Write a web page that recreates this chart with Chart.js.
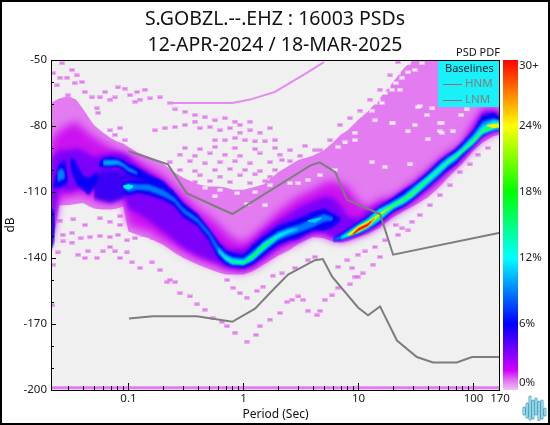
<!DOCTYPE html>
<html>
<head>
<meta charset="utf-8">
<script src="https://cdn.jsdelivr.net/npm/chart.js@4"></script>
<style>
  html, body { margin: 0; padding: 0; background: #fff; }
  #page { position: relative; width: 550px; height: 425px; overflow: hidden; font-family: "Noto Sans", sans-serif; }
  #page canvas { position: absolute; top: 0; }
  #frame { position: absolute; left: 0; top: 0; width: 546px; height: 421px; border: 2px solid #000; }
  #pdfTitle { position: absolute; left: 456px; top: 44px; font-size: 11px; color: #111; white-space: nowrap; }
  #legend { position: absolute; left: 438px; top: 61px; width: 61px; height: 46px; background: #19f0f8; font-size: 11.5px; color: #808080; }
  #legend div { position: absolute; white-space: nowrap; }
  #legend i { position: absolute; left: 5px; width: 19px; height: 1px; background: #9a6a78; }
  #logo { position: absolute; left: 522px; top: 395px; }
</style>
</head>
<body>
<div id="page">
  <canvas id="psd" width="550" height="425" style="left:0"></canvas>
  <canvas id="bar" width="50" height="425" style="left:500px"></canvas>
  <div id="pdfTitle">PSD PDF</div>
  <div id="legend">
    <div style="left:7px;top:-1px;color:#123;font-size:11px">Baselines</div>
    <i style="top:23px"></i><div style="left:27px;top:14px">HNM</div>
    <i style="top:39px"></i><div style="left:27px;top:30px">LNM</div>
  </div>
  <svg id="logo" width="26" height="26" fill="none" stroke-linecap="round">
    <path d="M2 13v6M5 9v13M8 2v22M11 6v17M14 4v15M17 7v18M20 6v17M23 14v6" stroke="#4aa6c4" stroke-width="3"/>
    <path d="M2 13v6M5 9v13M8 2v22M11 6v17M14 4v15M17 7v18M20 6v17M23 14v6" stroke="#c8eef6" stroke-width="1.2"/>
  </svg>
  <div id="frame"></div>
</div>
<script>
const titleLines = ['S.GOBZL.--.EHZ : 16003 PSDs', '12-APR-2024 / 18-MAR-2025'];

const xTicks = [0.1, 1, 10, 100, 170];
const xMinor = [0.03, 0.04, 0.05, 0.06, 0.07, 0.08, 0.09, 0.2, 0.3, 0.4, 0.5, 0.6, 0.7, 0.8, 0.9, 2, 3, 4, 5, 6, 7, 8, 9, 20, 30, 40, 50, 60, 70, 80, 90];
const yTicks = [-200, -170, -140, -110, -80, -50];
const yMinor = [-190, -180, -160, -150, -130, -120, -100, -90, -70, -60];

// baselines
const hnmPeriod = [0.1, 0.22, 0.32, 0.8, 3.8, 4.6, 6.3, 7.9, 15.4, 20, 170];
const hnmDb = [-91.5, -97.4, -110.5, -120, -98, -96.5, -101, -113.5, -120, -138.5, -128.5];
const lnmPeriod = [0.101, 0.163, 0.394, 0.8, 1.26, 1.88, 2.44, 4.18, 4.9, 5.9, 9.9, 12.1, 15.4, 21.6, 32.2, 44.5, 71.6, 97, 170];
const lnmDb = [-167.5, -166.5, -166.5, -169, -163, -153.5, -147.5, -141, -140.5, -148.5, -162.5, -166, -162, -177.5, -185, -187.5, -187.5, -185, -185];

// density contours across all periods
const periods = [0.021, 0.025, 0.03, 0.035, 0.04, 0.05, 0.06, 0.07, 0.08, 0.09,
  0.1, 0.12, 0.15, 0.2, 0.25, 0.3, 0.4, 0.5, 0.6, 0.7, 0.8,
  1, 1.2, 1.5, 2, 2.5, 3, 4, 5, 6, 7, 8,
  10, 12, 15, 20, 25, 30, 40, 50, 60, 70, 80,
  100, 120, 150, 170];
const pinkTop = [-69.5, -67.5, -66.5, -68, -72, -79.5, -83, -85.5, -87, -88,
  -89.5, -92, -94, -97, -101, -103.5, -106.5, -107.5, -107.5, -108, -109,
  -109, -108, -106.5, -101, -98, -95.5, -93.5, -91, -87.5, -84, -82,
  -77, -73.5, -68, -60, -53.5, -50, -50, -50, -50, -50, -50,
  -50, -50, -50, -50];
const pinkBottom = [-140, -116, -116, -115.5, -115, -117.5, -118, -118, -117.5, -116.5,
  -128, -129.5, -131, -134, -137.5, -140, -143, -145, -146.5, -147.5, -147.5,
  -147.5, -146, -143, -139, -136.5, -133.5, -130.5, -131, -132.5, -133, -132.5,
  -130.5, -129, -126.5, -121.5, -118.5, -116.5, -112.5, -108, -103.5, -100, -97,
  -91, -87.5, -84.5, -84];
const magentaTop = [-86.5, -82, -79.5, -78, -81, -85, -87.5, -89.5, -91, -92,
  -93, -95.5, -98.5, -102.5, -107.5, -111.5, -117.5, -121, -124.5, -128, -131,
  -133, -130, -125.5, -119, -115, -112, -109, -106, -105, -106, -107.5,
  -114.5, -117, -113.5, -112, -108.5, -105.5, -100, -95.5, -92, -90, -87.5,
  -78, -72, -72, -72.5];
const magentaBottom = [-136.5, -113, -112.5, -111.5, -111.5, -113.5, -115, -115, -114.5, -113.5,
  -125, -126.5, -128, -132, -135, -137.5, -141, -142.5, -144, -145, -146,
  -146.5, -145, -142, -137, -134.5, -133, -129, -130, -132, -132.5, -132,
  -130, -128.5, -125.5, -120.5, -117.5, -115, -110, -106, -101.5, -98.5, -95.5,
  -90, -86, -83.5, -83];
const violetTop = [-94.5, -91, -91, -90, -91, -94, -93, -92, -92, -92.5,
  -94, -98, -101, -105.5, -111, -115.5, -123, -127.5, -132, -135, -136,
  -136, -133, -128, -123, -120, -117, -114, -112, -112.5, -116, -121,
  -122, -118.5, -115.5, -113, -109, -106.5, -101, -96, -93, -91, -88,
  -81, -73.5, -73, -74];
const violetBottom = [-134, -109, -110, -109, -108, -109, -111.5, -112.5, -111.5, -110.5,
  -118, -119.5, -123, -128, -132, -135.5, -139, -141, -142.5, -144.5, -145,
  -145.5, -144, -140.5, -135.5, -133, -132, -129, -128.5, -130.5, -132, -131,
  -129.5, -128, -125, -119.5, -117, -114, -109, -104.5, -100.5, -98, -95,
  -89.5, -85, -82.5, -82.5];

// trough ridge, 0.09 to 7 s
const troughPeriod = [0.09, 0.1, 0.12, 0.15, 0.2, 0.25, 0.3, 0.4, 0.5, 0.6, 0.7, 0.8, 1, 1.2, 1.5, 2, 2.5, 3, 4, 5, 6, 7];
const blueTop = [-106, -105, -104.5, -104.5, -107.5, -110, -115, -120, -126.5, -132.5, -136.5, -137.5, -138.5, -134, -130, -125.5, -123.5, -122, -119, -117.5, -119.5, -122];
const blueBottom = [-110.5, -111.5, -110.5, -111.5, -113.5, -116.5, -121.5, -125.5, -132, -140, -143, -144, -144.5, -143, -139, -134, -132, -131, -127.5, -127.5, -126, -123];
const lightPeriod = [0.09, 0.1, 0.12, 0.15, 0.2, 0.25, 0.3, 0.4, 0.5, 0.6, 0.7, 0.8, 1, 1.2, 1.5, 2, 2.5, 3, 4, 5, 6];
const lightTop = [-107, -106, -106.5, -106.5, -109, -112.5, -117.5, -122, -128, -134.5, -138, -139.5, -140, -137, -132.5, -128, -126, -125, -122, -120, -121.5];
const lightBottom = [-108.5, -110, -109, -109.5, -112, -114.5, -119.5, -124, -130, -138, -141.5, -143, -143.5, -141.5, -137, -132, -130, -128.5, -126, -123.5, -123];
const cyanTroughPeriod = [0.6, 0.7, 0.8, 1, 1.2, 1.5, 2, 2.5, 3];
const cyanTroughTop = [-135.5, -139, -140.5, -141, -138, -133, -129, -127, -126.5];
const cyanTroughBottom = [-137, -141, -143, -143, -141, -136.5, -131, -128.5, -127];
const cyanPatchPeriod = [3.6, 4.2, 4.8];
const cyanPatchTop = [-123, -122, -121.5];
const cyanPatchBottom = [-123.5, -124, -122];
const greenTroughPeriod = [0.7, 0.8, 1, 1.2, 1.5, 2];
const greenTroughTop = [-140, -141.5, -142, -138.5, -134, -130];
const greenTroughBottom = [-140.5, -142, -143, -140, -135.5, -130.5];

// upper and middle ridges left of 0.25 s
const upperPeriod = [0.055, 0.06, 0.07, 0.08, 0.09, 0.1, 0.12, 0.15, 0.2, 0.25];
const upperTop = [-97, -94.5, -94, -94.5, -95.5, -97, -99, -102, -105, -110];
const upperBottom = [-98.5, -99, -99, -98.5, -100, -102, -103.5, -106, -109, -111];
const upperLightPeriod = [0.06, 0.07, 0.08, 0.09, 0.1, 0.12];
const upperLightTop = [-95.5, -95.5, -95.5, -97, -99, -101];
const upperLightBottom = [-98, -98, -97.5, -98.5, -100.5, -102];
const middlePeriod = [0.031, 0.033, 0.036, 0.04, 0.045, 0.05, 0.055];
const middleTop = [-94.5, -94.5, -98, -102.5, -103.5, -102, -101.5];
const middleBottom = [-98, -102.5, -107, -109, -111.5, -108, -104.5];
const patchPeriod = [0.05, 0.07, 0.09, 0.11, 0.13];
const patchTop = [-102, -100, -101, -101, -103];
const patchBottom = [-113, -115, -113, -108, -105];
const blobPeriod = [0.022, 0.025, 0.028, 0.03];
const blobTop = [-107.5, -97.5, -95.5, -104.5];
const blobBottom = [-108, -108, -107, -105];
const blobLightPeriod = [0.024, 0.026, 0.028];
const blobLightTop = [-101, -99, -101];
const blobLightBottom = [-105.5, -104.5, -104];
const edgePeriod = [0.021, 0.0225, 0.023];
const edgeTop = [-118, -118, -125];
const edgeBottom = [-137, -133, -125];
const blobCyanPeriod = [0.09, 0.1, 0.11];
const blobCyanTop = [-107, -106.5, -107];
const blobCyanBottom = [-108, -109, -108];

// steep core, 6 to 170 s
const corePeriod = [6, 7, 8, 10, 12, 15, 20, 25, 30, 40, 50, 60, 70, 80, 100, 120, 150, 170];
const coreBlueTop = [-131, -129, -127, -123.5, -121, -117, -112.5, -109, -106.5, -101, -96, -93, -90.5, -87.5, -82, -75, -74, -76];
const coreBlueBottom = [-132.5, -132, -131, -129.5, -127.5, -124.5, -119, -116.5, -113.5, -108, -103.5, -100, -97.5, -94, -89, -84.5, -82, -82];
const coreLightTop = [-131.5, -130, -128, -124.5, -122, -118, -114, -111, -107.5, -102.5, -97.5, -94, -92, -89, -83.5, -78, -76.5, -77.5];
const coreLightBottom = [-132, -131.5, -130.5, -129, -127, -123.5, -118, -115.5, -112.5, -107, -102.5, -98.5, -96, -93, -88.5, -84, -82, -81.5];
const coreCyanPeriod = [7, 8, 10, 12, 15, 20, 25, 30, 40, 50, 60, 70, 80, 100, 120, 150, 170];
const coreCyanTop = [-130.5, -128.5, -125, -122.5, -118, -115, -112, -108.5, -103, -98.5, -95, -92.5, -90, -85, -80, -77.5, -78];
const coreCyanBottom = [-131.5, -130.5, -128.5, -126.5, -123, -117.5, -115, -112, -106, -101.5, -97.5, -95, -92, -88, -83.5, -81.5, -81];
const coreGreenPeriod = [8, 10, 12, 15, 20, 25, 30, 40, 50, 60, 70, 80, 100, 120, 150, 170];
const coreGreenTop = [-129, -125.5, -123, -119.5, -115.5, -112.5, -109.5, -104, -100, -96, -93.5, -91, -86, -81.5, -78.5, -78.5];
const coreGreenBottom = [-130, -128.5, -126, -122, -117, -114, -111.5, -105, -100.5, -97, -94.5, -92, -87.5, -83, -81, -80.5];
const yellowPeriod = [8, 10, 12, 15, 20];
const yellowTop = [-129.5, -125.5, -123.5, -120, -116];
const yellowBottom = [-130, -128, -126, -121, -116];
const yellowEndPeriod = [130, 150, 170];
const yellowEndTop = [-79.5, -79, -79];
const yellowEndBottom = [-80, -81, -80.5];
const orangePeriod = [8.5, 10, 12, 14];
const orangeTop = [-129.5, -126, -124, -121.5];
const orangeBottom = [-130, -128, -126, -122];
const redPeriod = [9, 10, 12, 13];
const redTop = [-129, -126.5, -124.5, -123];
const redBottom = [-129.5, -127.5, -125.5, -123.5];

// isolated bins
const dotPeriod = [0.0264, 0.0221, 0.0323, 0.0254, 0.0292, 0.0356, 0.0394, 0.0298, 0.034, 0.0239, 0.0418, 0.0482, 0.0625, 0.0565, 0.069, 0.0811, 0.093, 0.103, 0.0763, 0.1186, 0.139, 0.0532, 0.0544, 0.114, 0.126, 0.154, 0.188, 0.229, 0.254, 0.31, 0.378, 0.462, 0.565, 0.69, 0.843, 0.932, 1.14,
  0.17, 0.207, 0.254, 0.31, 0.378, 0.418, 0.511, 0.625, 0.763, 0.932, 1.14, 1.39, 1.7, 0.565, 0.69, 0.843, 1.03, 1.26, 1.54, 1.88, 0.0763, 0.093, 0.069, 0.0843,
  0.31, 0.418, 0.565, 0.843, 1.26, 1.88, 0.28, 0.378, 0.511, 0.69, 0.932, 1.39, 2.07, 3.1, 0.229, 0.342, 0.462, 0.625, 0.843, 1.14, 1.7, 2.54, 3.79, 0.28, 0.378, 0.565, 0.763, 1.03, 1.39, 1.88, 0.418, 0.625, 0.932, 1.26, 1.7, 0.378, 0.511, 0.763, 1.14, 1.54,
  0.0269, 0.0323, 0.0383, 0.0463, 0.0565, 0.069, 0.0811, 0.097, 0.114, 0.134, 0.163, 0.0269, 0.0323, 0.0244, 0.0444, 0.0365, 0.0418, 0.0532, 0.06, 0.069, 0.0763, 0.0843, 0.097, 0.107, 0.126, 0.16, 0.188, 0.229, 0.216, 0.254, 0.28, 0.342, 0.394, 0.462, 0.543, 0.65, 0.72, 0.843, 1.07, 1.284, 1.39, 1.7, 0.72, 0.811, 0.932, 1.07, 1.31, 1.48, 1.8, 0.0221, 0.0216,
  2.16, 2.8, 3.64, 4.18, 6.63, 8, 8.8, 9.9, 9.9, 11.4, 13.9, 17, 22.1, 23.9, 27, 13.4, 15.4, 5.9, 5.1, 3, 2.64, 3.3, 6.63, 8.43, 9.3, 10.9, 2.07, 3.64, 4.36, 4.63, 2.39,
  0.0254, 0.0331, 0.0418, 0.0565, 0.069, 0.0843, 0.0843, 41.8, 51, 62.5, 76, 93, 109, 133, 34, 29.2, 21,
  4.63, 5.65, 6.9, 8.43, 10.3, 12.6, 15.4, 18.8, 22, 2.54, 3.43, 4.18, 2.16, 3.1, 2.07];
const dotDb = [-51.5, -56, -54.5, -58, -58, -57, -60, -66, -60.5, -61.5, -64.5, -67, -64.5, -67, -68, -62.5, -63, -66, -67, -64.5, -63.5, -72, -74, -69, -68, -67.5, -67, -69.5, -72.5, -73.5, -75, -76, -77.5, -76.5, -78, -79.5, -78,
  -82, -81, -80.5, -79.5, -78, -81, -80.5, -82, -81, -83, -82, -83, -81, -86.5, -86.5, -85.5, -86.5, -87, -87, -86.5, -84, -86.5, -82, -81,
  -90, -90.5, -89.5, -90, -90.5, -90, -93, -93.5, -92.5, -93, -93.5, -92.5, -93, -93.5, -96.5, -96, -97, -96.5, -96, -97, -96.5, -96, -96.5, -100, -100.5, -100, -99.5, -100, -100.5, -100, -102.5, -103, -102.5, -102, -103, -105.5, -105, -105.5, -106, -105,
  -129.5, -128.5, -131, -130.5, -130, -130.5, -129.5, -132, -131, -129.5, -131, -132.5, -133, -137.5, -137, -138.5, -140, -140, -137, -135, -137, -140, -137.5, -142, -144.5, -142, -145.5, -150, -151, -151, -156, -157.5, -161, -163.5, -167.5, -169, -171, -174, -178, -175, -171, -168, -150, -153.5, -156, -158, -155, -153, -148, -143, -161.5,
  -147, -144.5, -141, -139.5, -144, -141, -144.5, -148.5, -138.5, -137, -135, -132, -129.5, -126.5, -127.5, -143, -139.5, -157, -159, -157.5, -159, -159, -153.5, -152, -148.5, -147, -165, -164, -166, -164, -160,
  -123, -122.5, -125, -122, -123.5, -125, -121, -116, -111.5, -107, -101, -97.5, -93, -90, -120.5, -123.5, -125,
  -91, -86.5, -79.5, -76.5, -73, -68, -63.5, -57, -51, -91, -89, -91, -95.5, -100, -104.5];
// grey bins left open inside the pink
const holePeriod = [3.64, 3, 2.54, 13.1, 17, 27, 30.9, 40, 53, 53, 39.4, 33, 43.7, 19.5, 13.9, 9.3, 7.63, 9.3, 6.63, 13.1, 13.9, 16, 17, 18.1, 21, 23.9, 27, 30.9, 35.6, 27, 22.1, 19.5, 22.9, 14.8, 20, 51, 51, 66, 28, 34, 78, 87, 1.07, 1.54, 4.63, 6.25,
  0.462, 0.625, 0.88, 1.26, 1.7, 0.565];
const holeDb = [-104.5, -106, -106, -96.5, -98.5, -82.5, -79.5, -86, -83, -78.5, -75, -71.5, -72, -78.5, -77.5, -83, -87.5, -86.5, -89.5, -73, -69.5, -69.5, -65, -62.5, -60.5, -58, -55.5, -54.5, -51.5, -51.5, -56, -63.5, -63.5, -68, -78.5, -78.5, -82.5, -82.5, -97.5, -71, -75, -72.5, -115.5, -116, -102.5, -100,
  -108, -109, -110.5, -110, -107, -112];
// thin high-noise streak and the clipped bottom bin
const streakPeriod = [0.22, 0.8, 1.14, 1.88, 3.64, 5];
const streakDb = [-69.5, -69.5, -68, -64.5, -55.5, -51];
const floorPeriod = [0.021, 170];
const floorDb = [-199, -199];

// colour bar
const barTickValues = [0.65, 6, 12, 18, 24, 29.45];
const barTickLabels = ['0%', '6%', '12%', '18%', '24%', '30+'];
const barStopAt = [0, 0.03, 0.06, 0.2, 0.3, 0.4, 0.6, 0.8, 1];
const barStopColor = ['#f0c0f4', '#e070f0', '#cf00ff', '#0000ff', '#0080ff', '#00ffff', '#00ff00', '#ffff00', '#ff0000'];

const pts = (xs, ys) => xs.map((x, i) => ({ x, y: ys[i] }));
const datasets = [];

function addBand(xs, top, bottom, color, blur) {
  datasets.push({ data: pts(xs, bottom), pointRadius: 0, borderWidth: 0, showLine: true, fill: false, blur });
  datasets.push({ data: pts(xs, top), pointRadius: 0, borderWidth: 0, showLine: true, fill: '-1', backgroundColor: color, blur });
}

function cell(color) {
  const c = document.createElement('canvas');
  c.width = 6;
  c.height = 4;
  const g = c.getContext('2d');
  g.fillStyle = color;
  g.globalAlpha = 0.5;
  g.fillRect(0, 0, 6, 4);
  g.globalAlpha = 1;
  g.fillRect(1, 1, 4, 2);
  return c;
}

addBand(periods, pinkTop, pinkBottom, '#e27cf0', 0.4);
datasets.push({ data: pts(dotPeriod, dotDb), showLine: false, pointStyle: cell('#e27cf0'), pointRadius: 2 });
datasets.push({ data: pts(holePeriod, holeDb), showLine: false, pointStyle: cell('#f0f0f0'), pointRadius: 2 });
datasets.push({ data: pts(streakPeriod, streakDb), showLine: true, borderColor: '#e48af2', borderWidth: 2, pointRadius: 0 });
datasets.push({ data: pts(floorPeriod, floorDb), showLine: true, borderColor: '#e27cf0', borderWidth: 3, pointRadius: 0 });
addBand(periods, magentaTop, magentaBottom, '#cc12f0', 4);
addBand(periods, violetTop, violetBottom, '#7c00f8', 2.5);
addBand(patchPeriod, patchTop, patchBottom, '#3a00f4', 2);
addBand(edgePeriod, edgeTop, edgeBottom, '#1808f0', 0.8);
addBand(blobPeriod, blobTop, blobBottom, '#0a00f5', 1);
addBand(middlePeriod, middleTop, middleBottom, '#0a00f5', 1);
addBand(upperPeriod, upperTop, upperBottom, '#0a00f5', 1);
addBand(troughPeriod, blueTop, blueBottom, '#0a00f5', 1.2);
addBand(corePeriod, coreBlueTop, coreBlueBottom, '#0a00f5', 1);
addBand(blobLightPeriod, blobLightTop, blobLightBottom, '#0080ff', 1);
addBand(upperLightPeriod, upperLightTop, upperLightBottom, '#00a0ff', 0.8);
addBand(lightPeriod, lightTop, lightBottom, '#0078ff', 1);
addBand(corePeriod, coreLightTop, coreLightBottom, '#0090ff', 0.9);
addBand(blobCyanPeriod, blobCyanTop, blobCyanBottom, '#00eeff', 0.6);
addBand(cyanTroughPeriod, cyanTroughTop, cyanTroughBottom, '#00eeff', 0.8);
addBand(cyanPatchPeriod, cyanPatchTop, cyanPatchBottom, '#00ccff', 0.6);
addBand(coreCyanPeriod, coreCyanTop, coreCyanBottom, '#00eeff', 0.8);
addBand(greenTroughPeriod, greenTroughTop, greenTroughBottom, '#00ff50', 0.6);
addBand(coreGreenPeriod, coreGreenTop, coreGreenBottom, '#20ff60', 0.7);
addBand(yellowPeriod, yellowTop, yellowBottom, '#e8ff00', 0.6);
addBand(yellowEndPeriod, yellowEndTop, yellowEndBottom, '#f0ff00', 0.5);
addBand(orangePeriod, orangeTop, orangeBottom, '#ff9000', 0.5);
addBand(redPeriod, redTop, redBottom, '#ff1000', 0.5);
datasets.push({ label: 'HNM', data: pts(hnmPeriod, hnmDb), showLine: true, borderColor: '#7d7d7d', borderWidth: 2, pointRadius: 0 });
datasets.push({ label: 'LNM', data: pts(lnmPeriod, lnmDb), showLine: true, borderColor: '#7d7d7d', borderWidth: 2, pointRadius: 0 });
datasets.forEach((d, i) => { d.order = -i; });

function filterFor(d) {
  return d && d.blur ? 'blur(' + d.blur + 'px)' : 'none';
}

const plotPaint = {
  id: 'plotPaint',
  beforeDatasetsDraw(chart) {
    const { ctx, chartArea: a } = chart;
    ctx.fillStyle = '#f0f0f0';
    ctx.fillRect(a.left, a.top, a.width, a.height);
    ctx.filter = filterFor(chart.data.datasets[0]);
  },
  afterDatasetDraw(chart, args) {
    chart.ctx.filter = filterFor(chart.data.datasets[args.index + 1]);
  },
  afterDatasetsDraw(chart) {
    const { ctx, chartArea: a, scales } = chart;
    ctx.filter = 'none';
    ctx.save();
    ctx.strokeStyle = '#000';
    ctx.lineWidth = 1;
    ctx.strokeRect(a.left + 0.5, a.top + 0.5, a.width - 1, a.height);
    ctx.beginPath();
    const markX = (v, len) => {
      const x = Math.round(scales.x.getPixelForValue(v)) + 0.5;
      ctx.moveTo(x, a.bottom);
      ctx.lineTo(x, a.bottom - len);
    };
    const markY = (v, len) => {
      const y = Math.round(scales.y.getPixelForValue(v)) + 0.5;
      ctx.moveTo(a.left, y);
      ctx.lineTo(a.left + len, y);
    };
    xTicks.slice(0, 4).forEach((v) => markX(v, 7));
    xMinor.forEach((v) => markX(v, 4));
    yTicks.forEach((v) => markY(v, 5));
    yMinor.forEach((v) => markY(v, 3));
    ctx.stroke();
    ctx.restore();
  },
};

const font = { family: '"Noto Sans", sans-serif', size: 11.5 };

new Chart(document.getElementById('psd').getContext('2d'), {
  type: 'line',
  data: { datasets },
  plugins: [plotPaint],
  options: {
    responsive: false,
    animation: false,
    events: [],
    plugins: {
      legend: { display: false },
      tooltip: { enabled: false },
      title: {
        display: true,
        text: titleLines,
        color: '#111',
        font: { family: '"Noto Sans", sans-serif', size: 19.5, weight: 'normal', lineHeight: 1.333 },
        padding: { top: 6, bottom: 2 },
      },
    },
    scales: {
      x: {
        type: 'logarithmic',
        min: 0.0212,
        max: 170,
        afterBuildTicks: (scale) => { scale.ticks = xTicks.map((value) => ({ value })); },
        afterFit: (scale) => { scale.height = 35; },
        ticks: { color: '#222', font, padding: 2, autoSkip: false, maxRotation: 0, callback: (v) => String(v) },
        grid: { display: false, drawTicks: false },
        border: { display: false },
        title: { display: true, text: 'Period (Sec)', color: '#111', font: { ...font, size: 12 }, padding: { top: 0, bottom: 3 } },
      },
      y: {
        min: -200,
        max: -50,
        afterBuildTicks: (scale) => { scale.ticks = yTicks.map((value) => ({ value })); },
        afterFit: (scale) => { scale.width = 51; },
        ticks: { color: '#222', font, padding: 4, autoSkip: false },
        grid: { display: false, drawTicks: false },
        border: { display: false },
        title: { display: true, text: 'dB', color: '#111', font: { ...font, size: 12 }, padding: { top: 3, bottom: 0 } },
      },
      // empty axis that keeps room for the colour bar, so the title centres on the page
      gutter: {
        axis: 'y',
        position: 'right',
        afterFit: (scale) => { scale.width = 50; },
        ticks: { display: false },
        grid: { display: false, drawTicks: false },
        border: { display: false },
      },
    },
  },
});

new Chart(document.getElementById('bar').getContext('2d'), {
  type: 'bar',
  data: {
    labels: ['PDF'],
    datasets: [{
      data: [30],
      barPercentage: 1,
      categoryPercentage: 1,
      backgroundColor(c) {
        const a = c.chart.chartArea;
        if (!a) return '#fff';
        const g = c.chart.ctx.createLinearGradient(0, a.bottom, 0, a.top);
        barStopAt.forEach((at, i) => g.addColorStop(at, barStopColor[i]));
        return g;
      },
    }],
  },
  options: {
    responsive: false,
    animation: false,
    events: [],
    layout: { padding: { left: 3, top: 60, bottom: 35 } },
    plugins: { legend: { display: false }, tooltip: { enabled: false } },
    scales: {
      x: { display: false },
      y: {
        position: 'right',
        min: 0,
        max: 30,
        afterBuildTicks: (scale) => { scale.ticks = barTickValues.map((value) => ({ value })); },
        afterFit: (scale) => { scale.width = 32; },
        ticks: {
          color: '#222',
          font,
          padding: 1,
          callback: (v) => barTickLabels[barTickValues.indexOf(v)],
        },
        grid: { display: false, drawTicks: false },
        border: { display: false },
      },
    },
  },
});
</script>
</body>
</html>
